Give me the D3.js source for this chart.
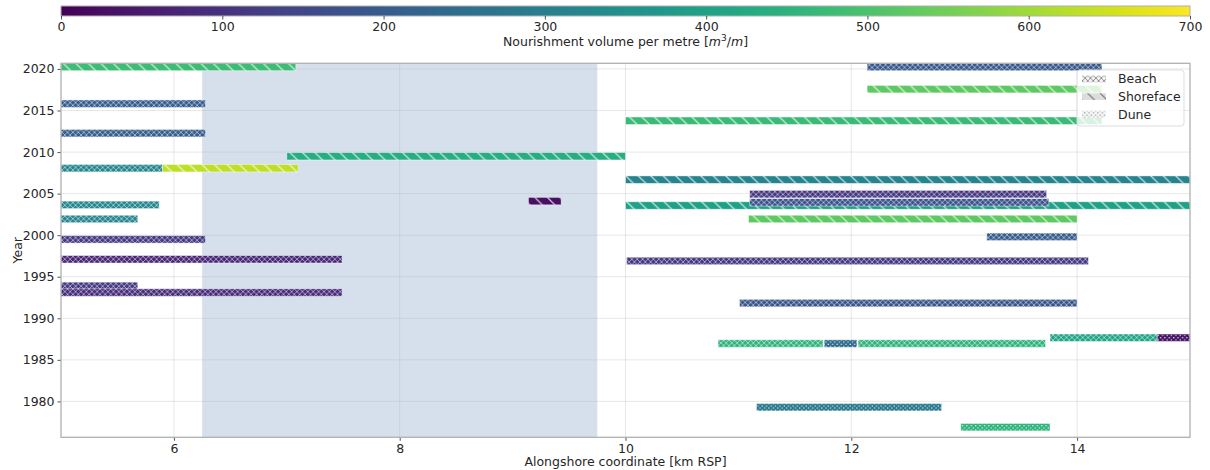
<!DOCTYPE html>
<html>
<head>
<meta charset="utf-8">
<script src="https://cdn.jsdelivr.net/npm/d3@7"></script>
<style>
  html, body { margin: 0; padding: 0; background: #fff; }
  svg { display: block; font-family: "DejaVu Sans", sans-serif; }
</style>
</head>
<body>
<svg id="chart" width="1210" height="470"></svg>
<script>
// Nourishment campaigns: one entry per bar (year position, alongshore extent, volume, type)
const nourishYear = [2020.24, 2020.24, 2017.57, 2015.82, 2013.77, 2012.27, 2009.5, 2008.06, 2008.06, 2006.68,
                     2004.94, 2004.1, 2003.57, 2003.95, 2003.65, 2001.95, 2001.95, 1999.8, 1999.5, 1997.1,
                     1996.9, 1993.9, 1993.1, 1991.83, 1987.66, 1987.66, 1986.96, 1986.96, 1986.96, 1979.3, 1976.9];
const kmStart     = [5.0, 12.14, 12.14, 5.0, 10.0, 5.0, 7.0, 5.0, 5.9, 10.0,
                     11.1, 9.14, 10.0, 11.1, 5.0, 5.0, 11.09, 13.2, 5.0, 5.0,
                     10.01, 5.0, 5.0, 11.01, 13.76, 14.71, 10.82, 11.76, 12.06, 11.16, 12.97];
const kmEnd       = [7.08, 14.22, 14.22, 6.28, 14.22, 6.28, 10.0, 5.9, 7.1, 15.0,
                     13.73, 9.43, 15.0, 13.75, 5.87, 5.68, 14.0, 14.0, 6.28, 7.49,
                     14.1, 5.68, 7.49, 14.0, 14.71, 15.0, 11.75, 12.05, 13.72, 12.8, 13.76];
const volume      = [480, 190, 525, 205, 475, 205, 435, 320, 630, 315,
                     110, 30, 400, 180, 320, 320, 525, 200, 115, 75,
                     120, 115, 85, 185, 405, 40, 455, 245, 455, 285, 455];
const kind        = ["Shoreface", "Beach", "Shoreface", "Beach", "Shoreface", "Beach", "Shoreface", "Beach", "Shoreface", "Shoreface",
                     "Beach", "Shoreface", "Shoreface", "Beach", "Beach", "Beach", "Shoreface", "Beach", "Beach", "Beach",
                     "Beach", "Beach", "Beach", "Beach", "Beach", "Dune", "Beach", "Dune", "Beach", "Dune", "Dune"];

const xTicks = [6, 8, 10, 12, 14];
const yTicks = [1980, 1985, 1990, 1995, 2000, 2005, 2010, 2015, 2020];
const cbTicks = [0, 100, 200, 300, 400, 500, 600, 700];
const legendKinds = ["Beach", "Shoreface", "Dune"];
const studyArea = [6.25, 9.75];

const svg = d3.select("#chart");
const plot = { left: 61, right: 1190, top: 63.3, bottom: 437.3 };
const barH = 0.9;
const textCol = "#262626";
const spineCol = "#b0b0b0";

const x = d3.scaleLinear().domain([5, 15]).range([plot.left, plot.right]);
const y = d3.scaleLinear().domain([1975.68, 2020.68]).range([plot.bottom, plot.top]);
const cScale = d3.scaleLinear().domain([0, 700]).range([plot.left, plot.right]);
const color = v => d3.interpolateViridis(v / 700);

const defs = svg.append("defs");

// hatch patterns (white strokes over the bar colour)
function hatchX(id, stroke, sw, size) {
  const p = defs.append("pattern").attr("id", id).attr("patternUnits", "userSpaceOnUse")
    .attr("width", size).attr("height", size);
  p.append("path").attr("d", `M0,0L${size},${size}M${size},0L0,${size}`)
    .attr("stroke", stroke).attr("stroke-width", sw).attr("fill", "none");
}
function hatchBack(id, stroke, sw, size) {
  const p = defs.append("pattern").attr("id", id).attr("patternUnits", "userSpaceOnUse")
    .attr("width", size).attr("height", size);
  p.append("path").attr("d", `M${-size},0L${size},${2*size}M0,${-size}L${2*size},${size}M0,0L${size},${size}`)
    .attr("stroke", stroke).attr("stroke-width", sw).attr("fill", "none");
}
function hatchDots(id, fill, r, w, h) {
  const p = defs.append("pattern").attr("id", id).attr("patternUnits", "userSpaceOnUse")
    .attr("width", w).attr("height", h);
  p.append("circle").attr("cx", w / 4).attr("cy", h / 4).attr("r", r).attr("fill", fill);
  p.append("circle").attr("cx", 3 * w / 4).attr("cy", 3 * h / 4).attr("r", r).attr("fill", fill);
}
hatchX("h-Beach", "rgba(255,255,255,0.6)", 0.85, 5.4);
hatchBack("h-Shoreface", "rgba(255,255,255,0.75)", 1.2, 12.5);
hatchDots("h-Dune", "rgba(255,255,255,0.95)", 0.7, 4.4, 4.4);
hatchX("l-Beach", "#8a8a8a", 0.9, 5.4);
hatchBack("l-Shoreface", "#6f6f6f", 1.1, 12.5);
hatchDots("l-Dune", "#8a8a8a", 0.65, 4.4, 4.4);

defs.append("clipPath").attr("id", "plotClip").append("rect")
  .attr("x", plot.left).attr("y", plot.top)
  .attr("width", plot.right - plot.left).attr("height", plot.bottom - plot.top);

// ---- colour bar ----
const grad = defs.append("linearGradient").attr("id", "viridisGrad")
  .attr("x1", "0%").attr("x2", "100%").attr("y1", "0%").attr("y2", "0%");
d3.range(0, 1.0001, 0.02).forEach(t => {
  grad.append("stop").attr("offset", (t * 100) + "%").attr("stop-color", d3.interpolateViridis(t));
});
const cb = { top: 6, bottom: 16 };
svg.append("rect").attr("x", cScale(0)).attr("y", cb.top)
  .attr("width", cScale(700) - cScale(0)).attr("height", cb.bottom - cb.top)
  .attr("fill", "url(#viridisGrad)").attr("stroke", spineCol).attr("stroke-width", 1);
const cbAxis = svg.append("g").attr("transform", `translate(0,${cb.bottom})`)
  .call(d3.axisBottom(cScale).tickValues(cbTicks).tickSize(3.5).tickPadding(3).tickFormat(d3.format("d")));
cbAxis.select(".domain").remove();
cbAxis.selectAll("line").attr("stroke", textCol).attr("stroke-width", 0.8);
cbAxis.selectAll("text").attr("font-size", 12.5).attr("fill", textCol).attr("font-family", "DejaVu Sans");

const cbLabel = svg.append("text").attr("x", (plot.left + plot.right) / 2).attr("y", 46)
  .attr("text-anchor", "middle").attr("font-size", 12.5).attr("fill", textCol);
cbLabel.append("tspan").text("Nourishment volume per metre [");
cbLabel.append("tspan").attr("font-style", "italic").text("m");
cbLabel.append("tspan").attr("font-size", 9).attr("dy", -5).text("3");
cbLabel.append("tspan").attr("dy", 5).text("/");
cbLabel.append("tspan").attr("font-style", "italic").text("m");
cbLabel.append("tspan").text("]");

// ---- main axes ----
const main = svg.append("g");

// study area shading
main.append("rect")
  .attr("x", x(studyArea[0])).attr("y", plot.top)
  .attr("width", x(studyArea[1]) - x(studyArea[0])).attr("height", plot.bottom - plot.top)
  .attr("fill", "#d6e0ec");

// grid
main.append("g").selectAll("line").data(xTicks).join("line")
  .attr("x1", d => x(d)).attr("x2", d => x(d)).attr("y1", plot.top).attr("y2", plot.bottom)
  .attr("stroke", "#b0b0b0").attr("stroke-opacity", 0.3).attr("stroke-width", 1);
main.append("g").selectAll("line").data(yTicks).join("line")
  .attr("x1", plot.left).attr("x2", plot.right).attr("y1", d => y(d)).attr("y2", d => y(d))
  .attr("stroke", "#b0b0b0").attr("stroke-opacity", 0.3).attr("stroke-width", 1);

// bars
const bars = d3.range(nourishYear.length).map(i => ({
  year: nourishYear[i], a: kmStart[i], b: kmEnd[i], v: volume[i], k: kind[i]
}));
const barG = main.append("g").attr("clip-path", "url(#plotClip)");
const barSel = barG.selectAll("g").data(bars).join("g");
barSel.append("rect")
  .attr("x", d => x(d.a)).attr("y", d => y(d.year + barH / 2))
  .attr("width", d => x(d.b) - x(d.a)).attr("height", d => y(d.year - barH / 2) - y(d.year + barH / 2))
  .attr("fill", d => color(d.v))
  .attr("stroke", "rgba(255,255,255,0.55)").attr("stroke-width", 0.8);
barSel.append("rect")
  .attr("x", d => x(d.a)).attr("y", d => y(d.year + barH / 2))
  .attr("width", d => x(d.b) - x(d.a)).attr("height", d => y(d.year - barH / 2) - y(d.year + barH / 2))
  .attr("fill", d => `url(#h-${d.k})`);

// axes
const xAxis = svg.append("g").attr("transform", `translate(0,${plot.bottom})`)
  .call(d3.axisBottom(x).tickValues(xTicks).tickSize(3.5).tickPadding(3).tickFormat(d3.format("d")));
const yAxis = svg.append("g").attr("transform", `translate(${plot.left},0)`)
  .call(d3.axisLeft(y).tickValues(yTicks).tickSize(3.5).tickPadding(3).tickFormat(d3.format("d")));
[xAxis, yAxis].forEach(ax => {
  ax.select(".domain").remove();
  ax.selectAll("line").attr("stroke", textCol).attr("stroke-width", 0.8);
  ax.selectAll("text").attr("font-size", 12.5).attr("fill", textCol).attr("font-family", "DejaVu Sans");
});

// frame
svg.append("rect").attr("x", plot.left).attr("y", plot.top)
  .attr("width", plot.right - plot.left).attr("height", plot.bottom - plot.top)
  .attr("fill", "none").attr("stroke", spineCol).attr("stroke-width", 1.3);

// axis labels
svg.append("text").attr("x", (plot.left + plot.right) / 2).attr("y", 466)
  .attr("text-anchor", "middle").attr("font-size", 12.5).attr("fill", textCol)
  .text("Alongshore coordinate [km RSP]");
svg.append("text").attr("transform", `translate(22,${(plot.top + plot.bottom) / 2}) rotate(-90)`)
  .attr("text-anchor", "middle").attr("font-size", 12.5).attr("fill", textCol)
  .text("Year");

// legend
const lg = svg.append("g").attr("transform", "translate(1077,70)");
lg.append("rect").attr("width", 107).attr("height", 56).attr("rx", 3)
  .attr("fill", "rgba(255,255,255,0.8)").attr("stroke", "#dddddd").attr("stroke-width", 1);
const legendFill = { Beach: "#f4f4f4", Shoreface: "#dcdcdc", Dune: "#f4f4f4" };
legendKinds.forEach((k, i) => {
  const cy = 9 + i * 17.6;
  lg.append("rect").attr("x", 5).attr("y", cy - 3.3).attr("width", 24).attr("height", 6.6)
    .attr("fill", legendFill[k]);
  lg.append("rect").attr("x", 5).attr("y", cy - 3.3).attr("width", 24).attr("height", 6.6)
    .attr("fill", `url(#l-${k})`);
  lg.append("text").attr("x", 41).attr("y", cy + 4.3).attr("font-size", 12.5).attr("fill", textCol).text(k);
});
</script>
</body>
</html>
